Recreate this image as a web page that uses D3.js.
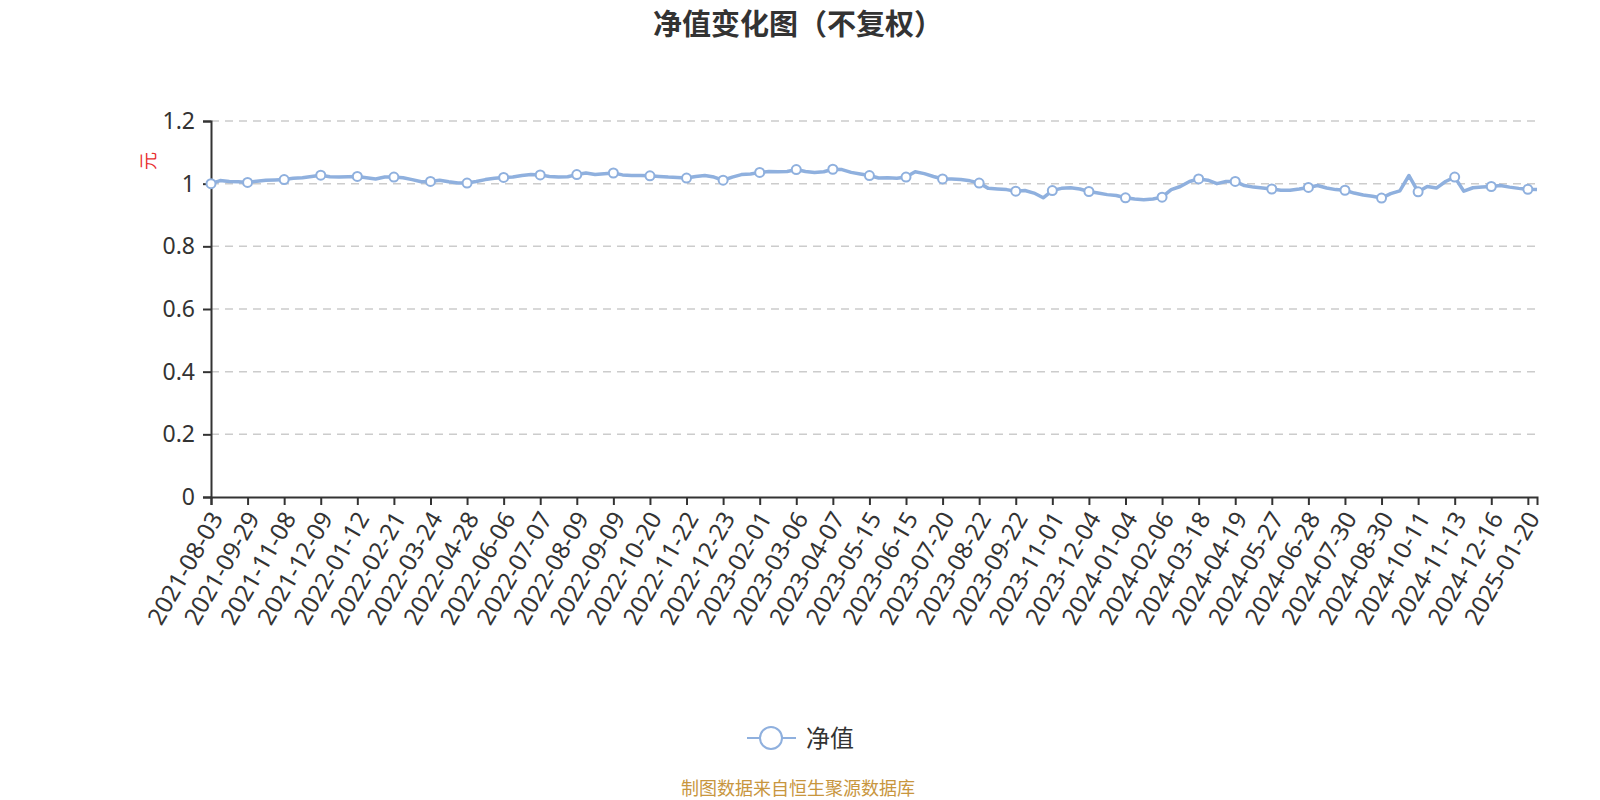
<!DOCTYPE html>
<html>
	<head>
		<meta charset="utf-8">
		<script src="https://cdn.jsdelivr.net/npm/d3@7"></script>
		<style>
			body { margin: 0; background: #fff; }
			svg { font-family: "Noto Sans CJK SC", "Noto Sans", sans-serif; }
		</style>
	</head>
	<body>
		<script type="text/javascript">
			// tick labels on the x axis (one every 4 samples)
			var tickDates = ["2021-08-03","2021-09-29","2021-11-08","2021-12-09","2022-01-12","2022-02-21",
				"2022-03-24","2022-04-28","2022-06-06","2022-07-07","2022-08-09","2022-09-09","2022-10-20",
				"2022-11-22","2022-12-23","2023-02-01","2023-03-06","2023-04-07","2023-05-15","2023-06-15",
				"2023-07-20","2023-08-22","2023-09-22","2023-11-01","2023-12-04","2024-01-04","2024-02-06",
				"2024-03-18","2024-04-19","2024-05-27","2024-06-28","2024-07-30","2024-08-30","2024-10-11",
				"2024-11-13","2024-12-16","2025-01-20"];

			// net value: 4 samples per tick interval, plus the last day
			var navValues = [
				1.000, 1.010, 1.007, 1.006,  1.004, 1.008, 1.011, 1.012,  1.013, 1.017, 1.019, 1.023,
				1.027, 1.022, 1.021, 1.022,  1.023, 1.019, 1.015, 1.021,  1.021, 1.019, 1.013, 1.006,
				1.007, 1.011, 1.006, 1.002,  1.002, 1.007, 1.013, 1.017,  1.020, 1.021, 1.026, 1.029,
				1.028, 1.023, 1.021, 1.022,  1.029, 1.034, 1.029, 1.032,  1.034, 1.028, 1.026, 1.026,
				1.025, 1.023, 1.021, 1.020,  1.018, 1.023, 1.026, 1.021,  1.011, 1.021, 1.029, 1.031,
				1.036, 1.039, 1.038, 1.039,  1.045, 1.039, 1.036, 1.038,  1.046, 1.045, 1.036, 1.031,
				1.026, 1.018, 1.019, 1.017,  1.021, 1.038, 1.032, 1.023,  1.015, 1.015, 1.013, 1.009,
				1.002, 0.985, 0.983, 0.981,  0.976, 0.978, 0.970, 0.955,  0.978, 0.985, 0.987, 0.983,
				0.975, 0.970, 0.965, 0.962,  0.955, 0.951, 0.949, 0.951,  0.957, 0.981, 0.991, 1.007,
				1.015, 1.011, 1.000, 1.007,  1.007, 0.994, 0.989, 0.986,  0.983, 0.979, 0.979, 0.983,
				0.988, 0.994, 0.986, 0.981,  0.979, 0.970, 0.964, 0.960,  0.954, 0.968, 0.977, 1.026,
				0.974, 0.991, 0.986, 1.007,  1.021, 0.976, 0.987, 0.989,  0.991, 0.994, 0.989, 0.985,
				0.982, 0.981
			];
			var yTicks = [0, 0.2, 0.4, 0.6, 0.8, 1, 1.2];

			var width = 1600, height = 800;
			var plotLeft = 211, plotRight = 1537, plotTop = 121, plotBottom = 497;
			var step = 4;
			var lineColor = "#8fb0de";

			var svg = d3.select("body").append("svg")
				.attr("width", width)
				.attr("height", height);

			var x = d3.scaleLinear().domain([0, navValues.length - 1]).range([plotLeft, plotRight]);
			var y = d3.scaleLinear().domain([0, 1.2]).range([plotBottom, plotTop]);

			// title
			svg.append("text")
				.attr("x", 798).attr("y", 35)
				.attr("text-anchor", "middle")
				.style("font-size", "29px").style("font-weight", "bold")
				.style("fill", "#333")
				.text("净值变化图（不复权）");

			// grid lines
			svg.append("g").selectAll("line")
				.data(yTicks.filter(function (d) { return d > 0; }))
				.enter().append("line")
					.attr("x1", plotLeft).attr("x2", plotRight)
					.attr("y1", function (d) { return y(d); })
					.attr("y2", function (d) { return y(d); })
					.attr("stroke", "#ccc").attr("stroke-width", 1.5)
					.attr("stroke-dasharray", "8,6");

			// y axis
			var yAxis = svg.append("g")
				.attr("transform", "translate(" + plotLeft + ",0)")
				.call(d3.axisLeft(y).tickValues(yTicks).tickSize(8).tickPadding(8)
					.tickFormat(function (d) { return d3.format("~g")(d); }));
			yAxis.select(".domain").attr("stroke", "#333").attr("stroke-width", 2);
			yAxis.selectAll(".tick line").attr("stroke", "#333").attr("stroke-width", 2);
			yAxis.selectAll(".tick text")
				.style("font-size", "23px").style("fill", "#333")
				.style("font-family", "\"Noto Sans\", sans-serif");

			// unit label
			svg.append("text")
				.attr("transform", "translate(155,161) rotate(-90)")
				.attr("text-anchor", "middle")
				.style("font-size", "18px").style("fill", "#e83030")
				.text("元");

			// x axis
			var tickIdx = tickDates.map(function (d, i) { return i * step; });
			var xAxis = svg.append("g")
				.attr("transform", "translate(0," + plotBottom + ")")
				.call(d3.axisBottom(x).tickValues(tickIdx).tickSize(8).tickSizeOuter(8)
					.tickFormat(function (d) { return tickDates[d / step]; }));
			xAxis.select(".domain").attr("stroke", "#333").attr("stroke-width", 2);
			xAxis.selectAll(".tick line").attr("stroke", "#333").attr("stroke-width", 2);
			xAxis.selectAll(".tick text")
				.attr("text-anchor", "end")
				.attr("dy", "0.35em")
				.attr("transform", "translate(5,17) rotate(-60)")
				.attr("x", 0).attr("y", 0)
				.style("font-size", "24px").style("fill", "#333")
				.style("font-family", "\"Noto Sans\", sans-serif");

			// line
			var line = d3.line()
				.x(function (d, i) { return x(i); })
				.y(function (d) { return y(d); });
			svg.append("path")
				.datum(navValues)
				.attr("d", line)
				.attr("fill", "none")
				.attr("stroke", lineColor)
				.attr("stroke-width", 3.5)
				.attr("stroke-linejoin", "round");

			// markers at labelled dates
			svg.append("g").selectAll("circle")
				.data(tickIdx)
				.enter().append("circle")
					.attr("cx", function (d) { return x(d); })
					.attr("cy", function (d) { return y(navValues[d]); })
					.attr("r", 4.5)
					.attr("fill", "#fff")
					.attr("stroke", lineColor)
					.attr("stroke-width", 2);

			// legend
			var lg = svg.append("g");
			lg.append("line")
				.attr("x1", 747).attr("x2", 796).attr("y1", 738).attr("y2", 738)
				.attr("stroke", lineColor).attr("stroke-width", 2);
			lg.append("circle")
				.attr("cx", 771).attr("cy", 738).attr("r", 11)
				.attr("fill", "#fff").attr("stroke", lineColor).attr("stroke-width", 2);
			lg.append("text")
				.attr("x", 806).attr("y", 747)
				.style("font-size", "24px").style("fill", "#333")
				.text("净值");

			// source note
			svg.append("text")
				.attr("x", 798).attr("y", 795)
				.attr("text-anchor", "middle")
				.style("font-size", "18px").style("fill", "#c8963e")
				.text("制图数据来自恒生聚源数据库");
		</script>
	</body>
</html>
